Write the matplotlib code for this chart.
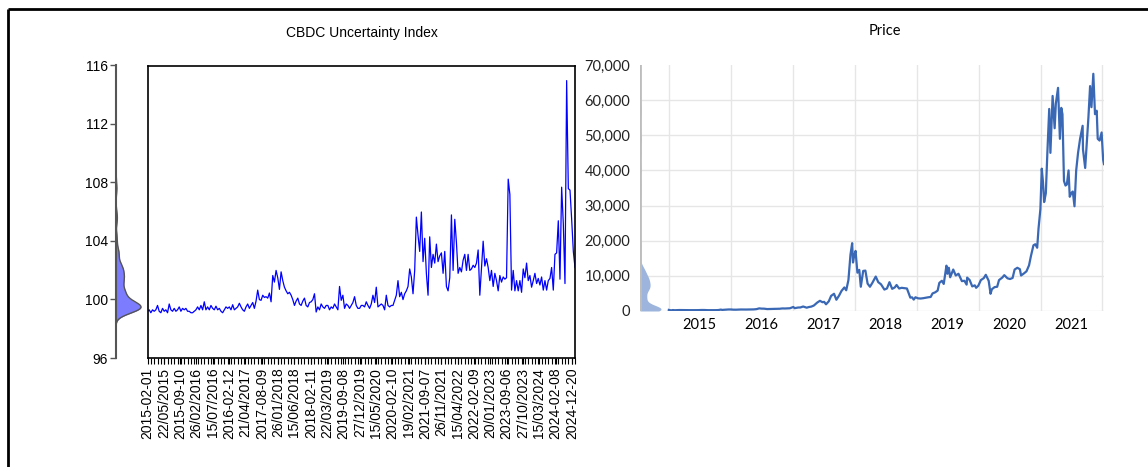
import numpy as np
import pandas as pd
import matplotlib
matplotlib.use('Agg')
import matplotlib.pyplot as plt
import matplotlib.dates as mdates
from matplotlib.lines import Line2D
from matplotlib.ticker import FuncFormatter

# CBDC Uncertainty Index (weekly)
cbdc = [
    99.2, 99.3, 99.1, 99.3, 99.2, 99.3, 99.6, 99.2, 99.1, 99.4,
    99.2, 99.3, 99.1, 99.7, 99.3, 99.2, 99.4, 99.2, 99.3, 99.5,
    99.2, 99.4, 99.3, 99.4, 99.2, 99.2, 99.1, 99.1, 99.2, 99.3,
    99.5, 99.3, 99.6, 99.3, 99.85, 99.3, 99.5, 99.3, 99.6, 99.4,
    99.3, 99.55, 99.3, 99.4, 99.2, 99.1, 99.3, 99.5, 99.4, 99.5,
    99.3, 99.65, 99.3, 99.4, 99.5, 99.75, 99.5, 99.3, 99.2, 99.5,
    99.7, 99.4, 99.6, 99.8, 99.4, 99.9, 100.65, 100.0, 99.95, 100.3,
    100.15, 100.2, 100.1, 100.45, 99.85, 101.65, 101.2, 102.0, 101.5, 100.7,
    101.9, 101.3, 100.85, 100.6, 100.4, 100.5, 100.3, 100.0, 99.6, 99.9,
    100.1, 99.7, 99.6, 99.9, 100.1, 99.6, 99.5, 99.8, 99.85, 100.0,
    100.4, 99.15, 99.5, 99.3, 99.7, 99.5, 99.4, 99.6, 99.6, 99.3,
    99.5, 99.4, 99.7, 99.5, 99.3, 100.9, 99.95, 100.3, 99.4, 99.7,
    99.6, 99.4, 99.6, 99.8, 100.2, 99.6, 99.4, 99.4, 99.6, 99.6,
    99.5, 99.85, 99.6, 99.4, 99.7, 100.3, 99.8, 100.85, 99.5, 99.6,
    99.7, 99.6, 99.3, 100.3, 99.6, 99.5, 99.6, 99.6, 99.95, 100.3,
    101.3, 100.2, 100.5, 100.0, 100.4, 100.6, 100.9, 102.1, 101.55, 100.4,
    102.0, 105.65, 104.4, 103.3, 106.0, 102.6, 104.2, 101.8, 100.3, 104.3,
    102.2, 103.1, 102.5, 103.8, 102.6, 103.0, 103.2, 101.8, 103.3, 100.9,
    100.6, 101.5, 105.8, 102.0, 105.5, 103.9, 101.8, 102.2, 101.9, 102.7,
    103.1, 102.0, 103.1, 102.0, 102.1, 102.35, 102.2, 102.5, 103.4, 100.3,
    102.2, 104.0, 102.3, 102.8, 102.2, 101.3, 102.0, 100.9, 101.8, 101.3,
    100.6, 101.65, 101.2, 101.55, 101.4, 101.5, 108.25, 107.2, 100.65, 102.0,
    100.6, 101.3, 100.6, 101.3, 100.5, 102.1, 101.5, 102.5, 101.3, 101.65,
    100.85, 101.3, 101.8, 101.1, 101.45, 101.0, 101.55, 100.65, 101.3, 100.65,
    101.3, 101.45, 102.2, 100.65, 103.1, 103.2, 105.4, 101.4, 107.7, 105.2,
    101.1, 115.0, 107.6, 107.5, 105.5, 103.3, 102.2,
]

date_labels = [
    '2015-02-01', '22/05/2015', '2015-09-10', '26/02/2016', '15/07/2016',
    '2016-02-12', '21/04/2017', '2017-08-09', '26/01/2018', '15/06/2018',
    '2018-02-11', '22/03/2019', '2019-09-08', '27/12/2019', '15/05/2020',
    '2020-02-10', '19/02/2021', '2021-09-07', '26/11/2021', '15/04/2022',
    '2022-02-09', '20/01/2023', '2023-09-06', '27/10/2023', '15/03/2024',
    '2024-02-08', '2024-12-20',
]

# Bitcoin price
price_dates = [
    '2015-01-01', '2015-01-14', '2015-01-25', '2015-02-05', '2015-02-20', '2015-03-05',
    '2015-03-20', '2015-04-05', '2015-04-20', '2015-05-05', '2015-05-20', '2015-06-05',
    '2015-06-20', '2015-07-05', '2015-07-15', '2015-08-01', '2015-08-20', '2015-09-05',
    '2015-09-20', '2015-10-05', '2015-10-20', '2015-11-04', '2015-11-11', '2015-11-25',
    '2015-12-10', '2015-12-20', '2016-01-05', '2016-01-15', '2016-02-01', '2016-02-15',
    '2016-03-01', '2016-03-15', '2016-04-01', '2016-04-15', '2016-05-01', '2016-05-15',
    '2016-06-01', '2016-06-17', '2016-07-01', '2016-07-15', '2016-08-03', '2016-08-15',
    '2016-09-01', '2016-09-15', '2016-10-01', '2016-10-15', '2016-11-01', '2016-11-15',
    '2016-12-01', '2016-12-15', '2017-01-04', '2017-01-12', '2017-02-01', '2017-02-15',
    '2017-03-03', '2017-03-24', '2017-04-05', '2017-04-20', '2017-05-05', '2017-05-25',
    '2017-06-10', '2017-06-25', '2017-07-05', '2017-07-16', '2017-08-01', '2017-08-15',
    '2017-09-01', '2017-09-15', '2017-10-01', '2017-10-15', '2017-11-01', '2017-11-12',
    '2017-11-25', '2017-12-07', '2017-12-17', '2017-12-22', '2017-12-28', '2018-01-06',
    '2018-01-17', '2018-01-28', '2018-02-06', '2018-02-20', '2018-03-05', '2018-03-18',
    '2018-04-01', '2018-04-15', '2018-05-05', '2018-05-20', '2018-06-05', '2018-06-25',
    '2018-07-10', '2018-07-25', '2018-08-10', '2018-08-25', '2018-09-05', '2018-09-20',
    '2018-10-05', '2018-10-20', '2018-11-05', '2018-11-20', '2018-11-25', '2018-12-05',
    '2018-12-15', '2018-12-25', '2019-01-10', '2019-01-25', '2019-02-10', '2019-02-25',
    '2019-03-10', '2019-03-25', '2019-04-05', '2019-04-20', '2019-05-05', '2019-05-15',
    '2019-05-30', '2019-06-10', '2019-06-26', '2019-07-02', '2019-07-10', '2019-07-18',
    '2019-08-05', '2019-08-20', '2019-09-05', '2019-09-25', '2019-10-10', '2019-10-23',
    '2019-10-26', '2019-11-10', '2019-11-25', '2019-12-10', '2019-12-18', '2019-12-31',
    '2020-01-15', '2020-02-01', '2020-02-13', '2020-03-01', '2020-03-12', '2020-03-20',
    '2020-04-05', '2020-04-20', '2020-05-01', '2020-05-20', '2020-06-01', '2020-06-20',
    '2020-07-05', '2020-07-20', '2020-08-01', '2020-08-17', '2020-09-01', '2020-09-08',
    '2020-09-25', '2020-10-10', '2020-10-25', '2020-11-05', '2020-11-20', '2020-12-01',
    '2020-12-12', '2020-12-20', '2020-12-31', '2021-01-08', '2021-01-15', '2021-01-22',
    '2021-02-01', '2021-02-10', '2021-02-21', '2021-02-28', '2021-03-13', '2021-03-25',
    '2021-04-01', '2021-04-14', '2021-04-25', '2021-05-03', '2021-05-10', '2021-05-19',
    '2021-05-28', '2021-06-05', '2021-06-15', '2021-06-22', '2021-07-01', '2021-07-10',
    '2021-07-20', '2021-07-30', '2021-08-10', '2021-08-22', '2021-09-06', '2021-09-08',
    '2021-09-21', '2021-10-01', '2021-10-10', '2021-10-20', '2021-10-28', '2021-11-08',
    '2021-11-18', '2021-11-28', '2021-12-04', '2021-12-15', '2021-12-27', '2022-01-05',
    '2022-01-10',
]
price = [
    314, 180, 270, 215, 245, 275,
    260, 255, 225, 240, 235, 225,
    245, 270, 290, 280, 235, 230,
    230, 240, 270, 400, 310, 360,
    420, 440, 430, 380, 370, 400,
    430, 415, 417, 430, 450, 455,
    535, 750, 675, 665, 550, 570,
    572, 607, 613, 640, 730, 710,
    750, 780, 1150, 800, 990, 1010,
    1280, 940, 1120, 1250, 1550, 2400,
    2900, 2500, 2600, 1900, 2750, 4300,
    4900, 3200, 4400, 5700, 6700, 5900,
    8800, 16000, 19300, 13800, 15500, 17100,
    10900, 11700, 6900, 11400, 11500, 7800,
    6900, 8000, 9800, 8200, 7600, 6100,
    6400, 8200, 6300, 6700, 7400, 6400,
    6600, 6500, 6400, 4500, 3800, 3900,
    3250, 3900, 3600, 3550, 3650, 3800,
    3900, 4000, 5000, 5300, 5800, 8000,
    8600, 7700, 12900, 10600, 12300, 9600,
    11800, 10100, 10600, 8500, 8600, 7500,
    9500, 8800, 7000, 7300, 6600, 7200,
    8800, 9350, 10300, 8600, 4900, 6200,
    6800, 6900, 8800, 9500, 10200, 9300,
    9100, 9400, 11800, 12300, 11900, 10100,
    10700, 11300, 13000, 15600, 18700, 19000,
    18000, 23500, 29000, 40500, 36800, 31000,
    33500, 45000, 57500, 45000, 61200, 52000,
    59000, 63500, 49000, 57800, 56000, 37000,
    35700, 36000, 40000, 32500, 33500, 34000,
    29800, 40000, 45000, 49000, 52700, 46000,
    40700, 48000, 55000, 64000, 58000, 67500,
    56000, 57000, 49000, 48500, 50800, 43000,
    41800,
]

W, H = 1148, 467


def box(x0, y0, x1, y1):
    # pixel box (top-left origin) -> figure fraction rect
    return [x0 / W, 1 - y1 / H, (x1 - x0) / W, (y1 - y0) / H]


def kde(vals, grid, bw, w=None):
    vals = np.asarray(vals, float)
    w = np.ones_like(vals) if w is None else np.asarray(w, float)
    k = np.exp(-0.5 * ((grid[:, None] - vals[None, :]) / bw) ** 2)
    return (k * w[None, :]).sum(1) / (w.sum() * bw * np.sqrt(2 * np.pi))


fig = plt.figure(figsize=(W / 100, H / 100), dpi=100)

# ---- left: CBDC index ----
left_font = 'Liberation Sans'
ax_d = fig.add_axes(box(116, 65, 147, 358))
yg = np.linspace(96, 116, 800)
dens = kde(cbdc, yg, 0.33)
ax_d.fill_betweenx(yg, 0, dens, color='#7c7cff', lw=0)
ax_d.plot(dens, yg, color='#555555', lw=1)
ax_d.set_ylim(96, 116)
ax_d.set_xlim(0, dens.max() * 31 / 25)
ax_d.set_facecolor('none')
for s in ['top', 'right', 'bottom']:
    ax_d.spines[s].set_visible(False)
ax_d.spines['left'].set_color('#555555')
ax_d.spines['left'].set_linewidth(1.5)
ax_d.set_xticks([])
ax_d.set_yticks([96, 100, 104, 108, 112, 116])
ax_d.tick_params(axis='y', length=4, width=1, color='#555555', pad=2, labelsize=10)
for t in ax_d.get_yticklabels():
    t.set_family(left_font)

ax1 = fig.add_axes(box(147.5, 66, 575, 358))
n = len(cbdc)
ax1.plot(np.arange(n), cbdc, color='#0000ff', lw=0.9)
ax1.set_xlim(0, n - 1)
ax1.set_ylim(96, 116)
ax1.set_yticks([])
pos = np.linspace(0, 0.993 * (n - 1), len(date_labels))
ax1.set_xticks(pos)
ax1.set_xticklabels(date_labels, rotation=90, fontsize=10, family=left_font)
ax1.set_xticks(np.arange(0, n, 2), minor=True)
ax1.tick_params(axis='x', which='both', length=4, width=0.8, pad=3, direction='out')
for s in ax1.spines.values():
    s.set_linewidth(1.2)
fig.text(362 / W, 1 - 33 / H, 'CBDC Uncertainty Index', ha='center', va='center',
         fontsize=10, family=left_font)

# ---- right: price ----
right_font = 'Lato'
pd_dates = pd.to_datetime(price_dates)
ax2 = fig.add_axes(box(640, 65, 1104, 311))
ax2.plot(pd_dates, price, color='#3a68b4', lw=1.6)
ax2.set_xlim(pd.Timestamp('2014-07-15'), pd.Timestamp('2022-01-10'))
ax2.set_ylim(0, 70000)
ax2.set_yticks(range(0, 70001, 10000))
ax2.yaxis.set_major_formatter(FuncFormatter(lambda v, p: f'{int(v):,}'))
ax2.xaxis.set_major_locator(mdates.YearLocator())
ax2.xaxis.set_major_formatter(plt.NullFormatter())
ax2.xaxis.set_minor_locator(mdates.MonthLocator(bymonth=7, bymonthday=1))
ax2.xaxis.set_minor_formatter(mdates.DateFormatter('%Y'))
ax2.tick_params(axis='both', which='both', length=0, labelsize=10.5)
ax2.tick_params(axis='y', pad=7, labelcolor='#222222')
ax2.tick_params(axis='x', which='minor', pad=5)
ax2.grid(True, which='major', color='#e6e6e6', lw=1)
ax2.set_axisbelow(True)
ax2.get_ygridlines()[-1].set_visible(False)
for s in ax2.spines.values():
    s.set_visible(False)
for t in ax2.get_yticklabels() + ax2.get_xticklabels(minor=True):
    t.set_family(right_font)
fig.text(885 / W, 1 - 31 / H, 'Price', ha='center', va='center',
         fontsize=10.5, family=right_font)

# price density, weighted by time span of each point
tnum = mdates.date2num(pd_dates)
span = np.gradient(tnum)
pg = np.linspace(0, 70000, 800)
pdens = kde(price, pg, 1100, span)
ax_pd = fig.add_axes(box(640, 65, 700, 311))
ax_pd.fill_betweenx(pg, 0, pdens, color='#9db5dc', lw=0)
ax_pd.set_ylim(0, 70000)
ax_pd.set_xlim(0, pdens.max() * 60 / 21)
ax_pd.set_facecolor('none')
ax_pd.axis('off')
ax_pd.axvline(0, color='#bdbdbd', lw=2)

# outer frame (only top and left edges fall inside the picture)
fig.add_artist(Line2D([7.5 / W, 7.5 / W], [0, 1 - 8.5 / H], color='black', lw=2,
                      solid_capstyle='butt', transform=fig.transFigure))
fig.add_artist(Line2D([7.5 / W, 1], [1 - 8.5 / H, 1 - 8.5 / H], color='black', lw=2,
                      solid_capstyle='butt', transform=fig.transFigure))

fig.savefig('out.png', dpi=100)
